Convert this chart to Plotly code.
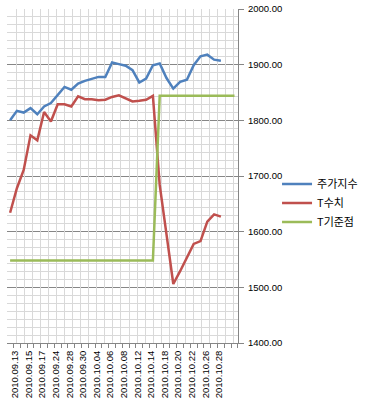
import plotly.graph_objects as go

dates = ["2010.09.13", "2010.09.14", "2010.09.15", "2010.09.16", "2010.09.17",
         "2010.09.20", "2010.09.24", "2010.09.27", "2010.09.28", "2010.09.29",
         "2010.09.30", "2010.10.01", "2010.10.04", "2010.10.05", "2010.10.06",
         "2010.10.07", "2010.10.08", "2010.10.11", "2010.10.12", "2010.10.13",
         "2010.10.14", "2010.10.15", "2010.10.18", "2010.10.19", "2010.10.20",
         "2010.10.21", "2010.10.22", "2010.10.25", "2010.10.26", "2010.10.27",
         "2010.10.28", "2010.10.29", "", ""]

stock_index = [1800, 1817, 1814, 1822, 1811, 1825, 1831, 1845, 1860, 1855,
               1866, 1871, 1875, 1878, 1878, 1904, 1901, 1898, 1890, 1868,
               1875, 1899, 1902, 1876, 1857, 1869, 1873, 1899, 1915, 1918,
               1909, 1907]

t_value = [1634, 1678, 1711, 1773, 1764, 1815, 1798, 1829, 1829, 1825,
           1843, 1838, 1838, 1836, 1837, 1842, 1845, 1839, 1834, 1835,
           1837, 1844, 1684, 1595, 1506, 1529, 1554, 1578, 1583, 1618,
           1631, 1627]

t_base = [1548] * 22 + [1844] * 12

names = ["주가지수", "T수치", "T기준점"]
colors = ["#4F81BD", "#C0504D", "#9BBB59"]

n = len(dates)
idx = list(range(n))

fig = go.Figure()
for name, vals, col in zip(names, [stock_index, t_value, t_base], colors):
    fig.add_trace(go.Scatter(
        x=idx[:len(vals)], y=vals, mode="lines", name=name,
        line=dict(color=col, width=2.5), hoverinfo="skip"))

# helper trace for the fine background grid axis
fig.add_trace(go.Scatter(x=[], y=[], xaxis="x2", showlegend=False, hoverinfo="skip"))

tickvals = [i + 0.75 for i in range(0, n, 2) if dates[i]]
ticktext = [dates[i] for i in range(0, n, 2) if dates[i]]

axis_gray = "#868686"
light = "#D9D9D9"
font_fam = "Liberation Sans, Arial, sans-serif"

fig.update_layout(
    width=368, height=404,
    margin=dict(l=7, r=130, t=9, b=61, autoexpand=False),
    paper_bgcolor="white", plot_bgcolor="white",
    font=dict(family=font_fam, size=9.5, color="black"),
    xaxis=dict(
        range=[-0.456, 33.515], tickmode="array", tickvals=tickvals, ticktext=ticktext,
        tickangle=-90, ticks="", showgrid=False, zeroline=False, automargin=False,
        showline=True, linecolor=axis_gray, linewidth=1,
        ticklabelstandoff=3,
        minor=dict(ticks="outside", ticklen=4, tickcolor=axis_gray,
                   tickmode="array", tickvals=[i - 0.5 for i in range(n + 1)],
                   showgrid=False),
        tickfont=dict(family=font_fam, size=9.5, color="black"),
    ),
    xaxis2=dict(
        overlaying="x", side="top", range=[-0.124, 28.5], tickmode="linear",
        tick0=0, dtick=1, showgrid=True, gridcolor=light, gridwidth=1,
        showticklabels=False, ticks="", zeroline=False, showline=False,
        automargin=False,
    ),
    yaxis=dict(
        side="right", range=[1400, 2000], tickmode="linear", tick0=1400, dtick=100,
        tickformat=".2f", showgrid=True, gridcolor=axis_gray, gridwidth=1,
        zeroline=False, showline=True, linecolor=axis_gray, linewidth=1,
        ticks="outside", ticklen=5, tickcolor=axis_gray, automargin=False,
        ticklabelstandoff=2,
        minor=dict(tickmode="linear", tick0=1400, dtick=100 / 7, showgrid=True,
                   gridcolor=light, gridwidth=1, ticks=""),
        tickfont=dict(family=font_fam, size=9.5, color="black"),
    ),
    legend=dict(
        x=1.169, xanchor="left", y=0.419, yanchor="middle",
        font=dict(family="Noto Sans CJK KR", size=11, color="black"),
        bgcolor="rgba(0,0,0,0)", itemwidth=30,
    ),
    showlegend=True,
)

# remove the default 8px body margin so the figure fills the window exactly
fig.write_html("out.html", config={"displayModeBar": False},
               post_script="document.body.style.margin='0px';")
